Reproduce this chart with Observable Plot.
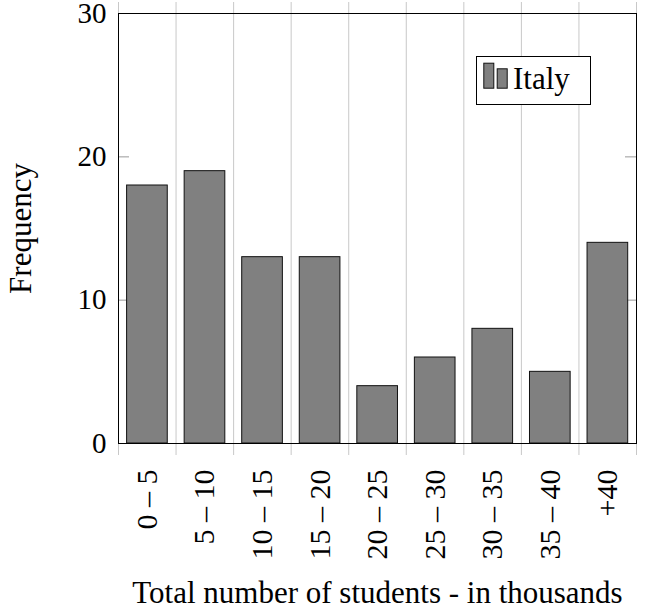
<!DOCTYPE html>
<html>
<head>
<meta charset="utf-8">
<script src="https://cdn.jsdelivr.net/npm/d3@7"></script>
<script src="https://cdn.jsdelivr.net/npm/@observablehq/plot@0.6"></script>
<style>
  html, body { margin: 0; padding: 0; background: white; }
  #wrap { position: relative; width: 653px; height: 612px; font-family: "Liberation Serif", "Times New Roman", "DejaVu Serif", serif; }
  #wrap svg, #wrap svg text { font-family: "Liberation Serif", "Times New Roman", "DejaVu Serif", serif !important; }
  #legend { position: absolute; left: 476px; top: 56px; width: 115px; height: 49px; box-sizing: border-box; border: 1px solid #000; background: white; }
</style>
</head>
<body>
<div id="wrap"></div>
<script>
const categories = ["0 \u2013 5", "5 \u2013 10", "10 \u2013 15", "15 \u2013 20", "20 \u2013 25", "25 \u2013 30", "30 \u2013 35", "35 \u2013 40", "+40"];
const values = [18, 19, 13, 13, 4, 6, 8, 5, 14];
const yTicks = [0, 10, 20, 30];
const seriesName = "Italy";
const xTitle = "Total number of students - in thousands";
const yTitle = "Frequency";

const data = categories.map((c, i) => ({cat: c, i, value: values[i]}));
const edges = d3.range(categories.length + 1);
const centers = categories.map((c, i) => i + 0.5);

const chart = Plot.plot({
  width: 653,
  height: 612,
  marginLeft: 118,
  marginRight: 17,
  marginTop: 13,
  marginBottom: 169,
  style: {fontSize: "29px", background: "white", color: "black", overflow: "visible"},
  x: {domain: [0, categories.length], label: null},
  y: {domain: [0, 30], label: null},
  marks: [
    Plot.ruleX(edges, {x: d => d, stroke: "#c8c8c8", strokeWidth: 1, insetTop: -11, insetBottom: -12}),
    Plot.ruleY(yTicks.slice(1, 3), {y: d => d, stroke: "#aaa", strokeWidth: 1.2, insetRight: 518 - 11}),
    Plot.ruleY(yTicks.slice(1, 3), {y: d => d, stroke: "#aaa", strokeWidth: 1.2, insetLeft: 518 - 11}),
    Plot.rectY(data, {x1: d => d.i, x2: d => d.i + 1, y: "value", insetLeft: 8.6, insetRight: 8.3, fill: "#808080", stroke: "#111", strokeWidth: 1}),
    Plot.frame({stroke: "black", strokeWidth: 1}),
    Plot.axisY({ticks: yTicks, tickSize: 0, tickPadding: 12, label: null}),
    Plot.axisX({ticks: centers, tickFormat: d => categories[Math.floor(d)], tickRotate: -90, tickSize: 0, tickPadding: 26, fontSize: 30, label: null}),
    Plot.text([xTitle], {text: d => d, frameAnchor: "bottom", textAnchor: "middle", lineAnchor: "middle", dy: 150, fontSize: 31, fill: "black"}),
    Plot.text([yTitle], {text: d => d, frameAnchor: "left", textAnchor: "middle", lineAnchor: "middle", rotate: -90, dx: -97, fontSize: 31, fill: "black"})
  ]
});

const wrap = document.getElementById("wrap");
wrap.appendChild(chart);

const legend = document.createElement("div");
legend.id = "legend";
legend.innerHTML = `<svg width="113" height="47" style="display:block">
  <rect x="6.8" y="6.2" width="10" height="25" fill="#808080" stroke="#111" stroke-width="1"></rect>
  <rect x="20.2" y="11.8" width="10" height="19.4" fill="#808080" stroke="#111" stroke-width="1"></rect>
  <text x="36" y="31.5" font-size="31px" fill="black">${seriesName}</text>
</svg>`;
wrap.appendChild(legend);
</script>
</body>
</html>
